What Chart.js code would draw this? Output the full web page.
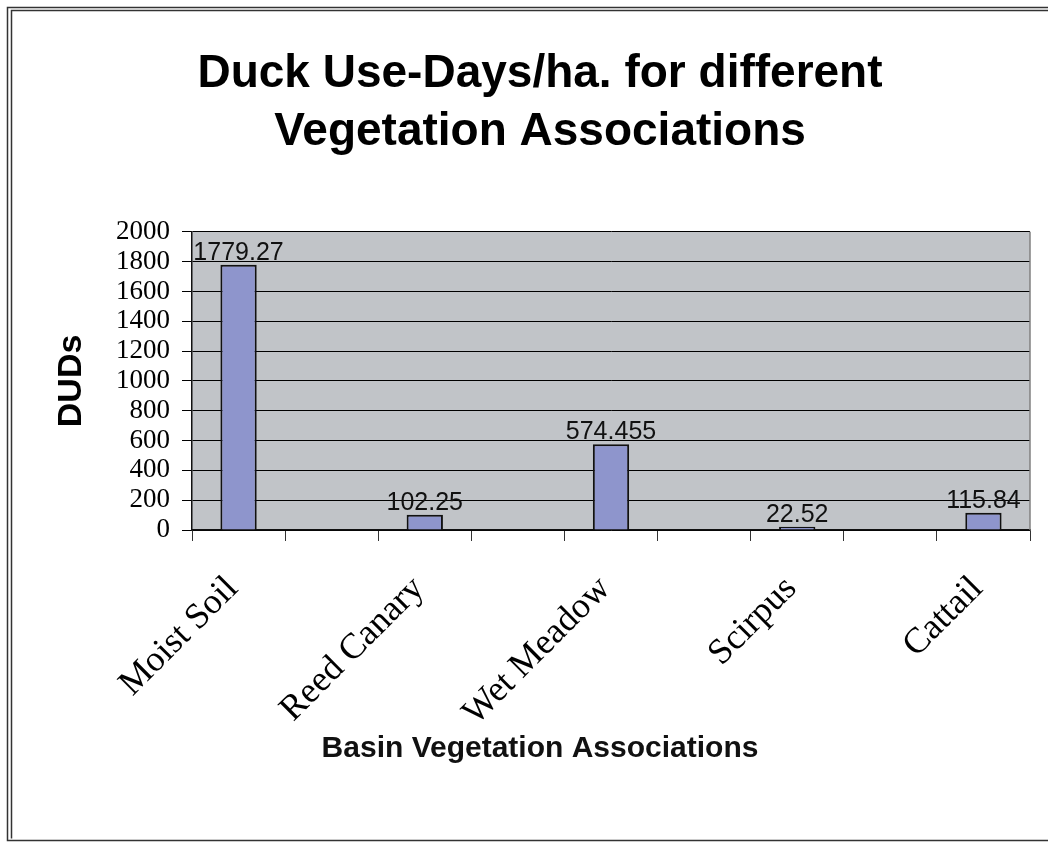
<!DOCTYPE html>
<html>
<head>
<meta charset="utf-8">
<title>Duck Use-Days/ha.</title>
<script src="https://cdn.jsdelivr.net/npm/chart.js@4"></script>
<style>
  html, body { margin: 0; padding: 0; background: #fff; }
  #wrap { width: 1048px; height: 842px; }
</style>
</head>
<body>
<div id="wrap"><canvas id="dudChart" width="1048" height="842"></canvas></div>
<script>
// chart data
// blank slots between the bars are empty categories, as in the original sheet
const categories = ['Moist Soil', '', 'Reed Canary', '', 'Wet Meadow', '', 'Scirpus', '', 'Cattail'];
const dudValues = [1779.27, null, 102.25, null, 574.455, null, 22.52, null, 115.84];
const dudLabels = ['1779.27', '', '102.25', '', '574.455', '', '22.52', '', '115.84'];
const yTicks = [0, 200, 400, 600, 800, 1000, 1200, 1400, 1600, 1800, 2000];

const serif = "'Liberation Serif', 'Times New Roman', serif";
const sans = "'Liberation Sans', Arial, sans-serif";

// grey plot background + frame around the whole chart
const backdrop = {
  id: 'backdrop',
  beforeDraw(chart) {
    const { ctx, chartArea: a } = chart;
    ctx.save();
    ctx.fillStyle = '#fff';
    ctx.fillRect(0, 0, chart.width, chart.height);
    // double frame on left/top, single at bottom (right edge is cut off)
    ctx.strokeStyle = '#333';
    ctx.lineWidth = 1.5;
    ctx.beginPath();
    ctx.moveTo(1060, 7.5); ctx.lineTo(7.5, 7.5); ctx.lineTo(7.5, 840.5); ctx.lineTo(1060, 840.5);
    ctx.moveTo(1060, 10.5); ctx.lineTo(11.5, 10.5); ctx.lineTo(11.5, 838.5);
    ctx.stroke();
    ctx.fillStyle = '#c1c4c8';
    ctx.fillRect(a.left, a.top, a.right - a.left, a.bottom - a.top);
    ctx.restore();
  },
  afterDraw(chart) {
    const { ctx, chartArea: a } = chart;
    ctx.save();
    ctx.strokeStyle = '#808080';
    ctx.lineWidth = 1.5;
    ctx.beginPath();
    ctx.moveTo(a.right, a.top); ctx.lineTo(a.right, a.bottom);
    ctx.stroke();
    ctx.restore();
  }
};

// value labels above each bar
const barLabels = {
  id: 'barLabels',
  afterDatasetsDraw(chart) {
    const { ctx } = chart;
    const meta = chart.getDatasetMeta(0);
    ctx.save();
    ctx.font = '25px ' + sans;
    ctx.fillStyle = '#111';
    ctx.textAlign = 'center';
    ctx.textBaseline = 'alphabetic';
    meta.data.forEach((bar, i) => {
      if (dudValues[i] == null) return;
      ctx.fillText(dudLabels[i], bar.x, bar.y - 5);
    });
    ctx.restore();
  }
};

new Chart(document.getElementById('dudChart'), {
  type: 'bar',
  data: {
    labels: categories,
    datasets: [{
      label: 'DUDs',
      data: dudValues,
      backgroundColor: '#8e95cc',
      borderColor: '#111',
      borderWidth: 2,
      barPercentage: 0.78,
      categoryPercentage: 0.5,
      skipNull: true
    }]
  },
  options: {
    responsive: false,
    animation: false,
    layout: { padding: { left: 50, right: 18, top: 0, bottom: 0 } },
    plugins: {
      legend: { display: false },
      tooltip: { enabled: false },
      title: {
        display: true,
        text: ['Duck Use-Days/ha. for different', 'Vegetation Associations'],
        color: '#000',
        font: { family: sans, size: 46, weight: 'bold', lineHeight: 1.27 },
        padding: { top: 45, bottom: 70 }
      },
      // x axis caption, centred on the whole chart like the original
      subtitle: {
        display: true,
        position: 'bottom',
        text: 'Basin Vegetation Associations',
        color: '#111',
        font: { family: sans, size: 30, weight: 'bold', lineHeight: 1.2 },
        padding: { top: 0, bottom: 75 }
      }
    },
    scales: {
      x: {
        grid: {
          display: true,
          drawOnChartArea: false,
          drawTicks: true,
          tickLength: 11,
          color: '#333',
          offset: true
        },
        border: { display: true, color: '#111', width: 1.5 },
        ticks: {
          autoSkip: false,
          minRotation: 45,
          maxRotation: 45,
          padding: 27,
          labelOffset: -6,
          color: '#000',
          font: { family: serif, size: 36 }
        },
        afterFit(scale) {
          scale.height = 201;
          scale.paddingLeft = 0;
          scale.paddingRight = 0;
        }
      },
      y: {
        min: 0,
        max: 2000,
        afterBuildTicks(scale) { scale.ticks = yTicks.map(v => ({ value: v })); },
        grid: {
          color: '#000',
          lineWidth: 1,
          drawTicks: true,
          tickLength: 10
        },
        border: { display: true, color: '#111', width: 1.5 },
        ticks: {
          autoSkip: false,
          padding: 12,
          color: '#000',
          font: { family: serif, size: 27 },
          callback: v => String(v)
        },
        title: {
          display: true,
          text: 'DUDs',
          color: '#000',
          font: { family: sans, size: 34, weight: 'bold', lineHeight: 1.2 },
          padding: { top: 1, bottom: 0 }
        },
        afterFit(scale) { scale.width = 142; }
      }
    }
  },
  plugins: [backdrop, barLabels]
});
</script>
</body>
</html>
